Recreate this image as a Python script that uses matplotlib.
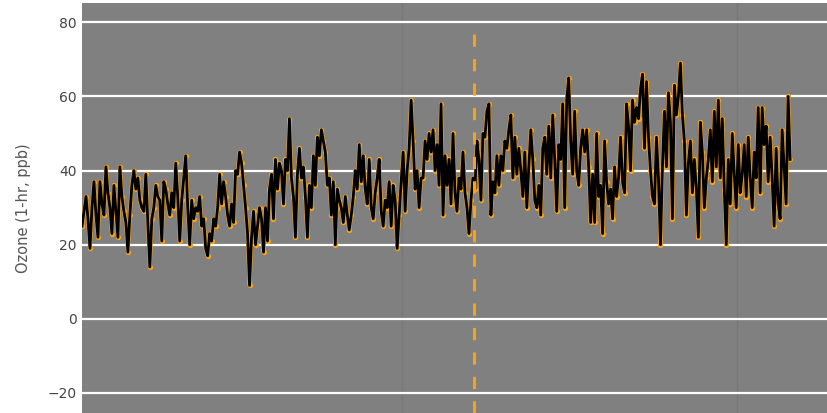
import numpy as np
import matplotlib
matplotlib.use('Agg')
import matplotlib.pyplot as plt

# daily max 1-hr ozone (ppb) left to right
ozone_a = [25, 29, 33, 27, 19, 30, 37, 28, 22, 37, 31, 28, 41, 34, 30, 23, 36, 29, 22, 41,
           33, 29, 26, 18, 28, 36, 40, 35, 38, 32, 30, 29, 39, 26, 14, 27, 30, 36, 33, 32,
           21, 37, 35, 31, 28]
ozone_b = [34, 30, 42, 33, 21, 32, 38, 44, 30, 20, 32, 27, 30, 29, 33, 25, 27, 19, 17, 23,
           21, 27, 25, 30, 39, 31, 37, 33, 28, 25, 31, 26, 40, 39, 45, 42, 36, 30, 23, 9,
           22, 29, 20, 25, 30]
ozone_c = [27, 18, 30, 21, 35, 39, 27, 43, 35, 42, 40, 31, 43, 40, 54, 38, 33, 22, 39, 46,
           38, 41, 33, 22, 36, 30, 44, 36, 49, 44, 51, 48, 45, 36, 38, 28, 37, 20, 35, 32,
           30, 26, 33, 28, 24]
ozone_d = [28, 33, 40, 35, 47, 37, 44, 35, 31, 43, 30, 27, 34, 38, 43, 29, 25, 32, 30, 37,
           25, 36, 32, 19, 28, 37, 45, 29, 40, 46, 59, 48, 35, 40, 30, 38, 38, 48, 43, 50,
           45, 51, 40, 47, 36]
ozone_e = [58, 28, 44, 36, 43, 31, 50, 34, 29, 38, 35, 45, 34, 30, 23, 32, 38, 35, 48, 43,
           32, 50, 49, 56, 58, 28, 37, 34, 44, 36, 44, 40, 48, 46, 51, 55, 38, 49, 39, 46,
           40, 33, 45, 30, 41]
ozone_f = [51, 43, 32, 30, 36, 28, 46, 49, 39, 52, 38, 55, 43, 29, 47, 43, 58, 30, 59, 65,
           48, 39, 56, 40, 36, 46, 51, 45, 51, 41, 26, 39, 26, 50, 33, 36, 23, 48, 37, 31,
           35, 27, 41, 33, 38]
ozone_g = [49, 37, 34, 58, 52, 40, 59, 53, 57, 54, 62, 66, 46, 64, 49, 40, 33, 31, 49, 38,
           20, 41, 56, 41, 61, 53, 27, 63, 55, 60, 69, 55, 48, 28, 42, 48, 34, 43, 35, 22,
           53, 45, 30, 38, 43]
ozone_h = [51, 37, 56, 41, 59, 38, 54, 35, 20, 43, 31, 50, 39, 30, 47, 34, 39, 47, 33, 49,
           38, 30, 45, 38, 57, 34, 57, 47, 52, 37, 49, 38, 25, 46, 31, 27, 51, 41, 31, 60,
           43]

ozone = ozone_a + ozone_b + ozone_c + ozone_d + ozone_e + ozone_f + ozone_g + ozone_h
days = np.arange(len(ozone))

event_day = 196.6          # dashed marker
xgrid = [160.5, 328.5]     # faint vertical grid
yticks = [-20, 0, 20, 40, 60, 80]

orange = '#f5a31a'

fig = plt.figure(figsize=(8.28, 4.13), dpi=100)
ax = fig.add_axes([82/828, 0, 1 - 82/828, 1 - 3/413])
ax.set_facecolor('#808080')

for g in xgrid:
    ax.axvline(g, color='#777777', lw=1, zorder=1)
for t in yticks:
    ax.axhline(t, color='white', lw=1.6, zorder=1)

ax.plot(days, ozone, color=orange, lw=2.8, marker='o', ms=2.8, mec=orange, zorder=2)
ax.plot(days, ozone, color='black', lw=2.0, zorder=3)
ax.vlines(event_day, -25.4, 79.2, color=orange, lw=2.2, linestyles=(0, (4, 4)), zorder=4)

ax.set_xlim(0, 374)
ax.set_ylim(-25.4, 85.2)
ax.set_yticks(yticks)
ax.set_yticklabels(['\u221220', '0', '20', '40', '60', '80'])
ax.set_xticks([])
ax.tick_params(axis='y', length=0, pad=4, labelsize=10, labelcolor='#444444')
for s in ax.spines.values():
    s.set_visible(False)
ax.set_ylabel('Ozone (1-hr, ppb)', fontsize=10.5, color='#555555', labelpad=12)

fig.savefig('out.png', dpi=100)
